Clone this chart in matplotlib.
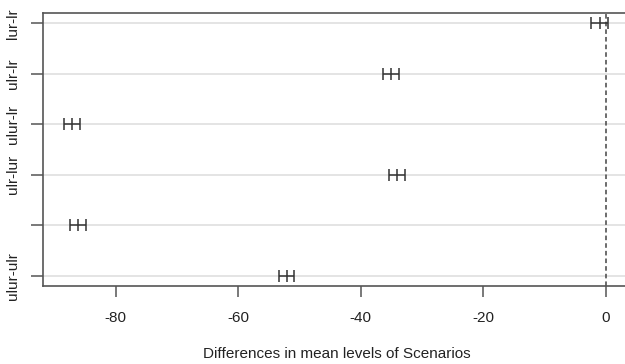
import matplotlib
matplotlib.use("Agg")
import matplotlib.pyplot as plt

# Tukey HSD comparisons (top to bottom)
comparisons = ["lur-lr", "ulr-lr", "ulur-lr", "ulr-lur", "ulur-lur", "ulur-ulr"]
shown_labels = ["lur-lr", "ulr-lr", "ulur-lr", "ulr-lur", "", "ulur-ulr"]
diff = [-1.0, -35.0, -87.1, -34.1, -86.2, -52.1]
lwr = [-2.4, -36.3, -88.4, -35.4, -87.5, -53.3]
upr = [0.4, -33.7, -85.8, -32.8, -84.9, -50.9]
x_ticks = [-80, -60, -40, -20, 0]
x_label = "Differences in mean levels of Scenarios"

plt.rcParams['font.family'] = ['Liberation Sans', 'DejaVu Sans']

fig = plt.figure(figsize=(6.25, 3.64), dpi=100)
W, H = 625, 364
left_px, right_px = 43.3, 629.9
top_px, bot_px = 13.3, 285.7
ax = fig.add_axes([left_px / W, 1 - bot_px / H, (right_px - left_px) / W, (bot_px - top_px) / H])

n = len(comparisons)
ypos = [n - i for i in range(n)]

for y in ypos:
    ax.axhline(y, color="#dcdcdc", lw=1.1, zorder=0)
ax.axvline(0, color="#444444", lw=1.1, ls=(0, (3, 2)), zorder=1)

xerr = [[d - l for d, l in zip(diff, lwr)], [u - d for d, u in zip(diff, upr)]]
ax.errorbar(diff, ypos, xerr=xerr, fmt="none", ecolor="#333333", elinewidth=1.1,
            capsize=4.2, capthick=1.1, zorder=3)
ax.plot(diff, ypos, ls="none", marker="|", markersize=8, mew=1.1, color="#333333", zorder=3)

ax.set_xlim(-91.8, 3.9)
ax.set_ylim(0.8, 6.2)
ax.set_xticks(x_ticks)
ax.set_xticklabels([str(t) for t in x_ticks])
ax.set_yticks(ypos)
ax.set_yticklabels(shown_labels, rotation=90, va="center")

for s in ax.spines.values():
    s.set_color("#555555")
    s.set_linewidth(1.2)

ax.tick_params(axis="x", length=8, width=1.1, color="#555555", labelsize=11,
               labelcolor="#222222", pad=10)
ax.tick_params(axis="y", length=9, width=1.1, color="#555555", labelsize=11,
               labelcolor="#222222", pad=8)
ax.set_xlabel(x_label, fontsize=11, color="#222222", labelpad=16)

fig.savefig("out.png", dpi=100)
